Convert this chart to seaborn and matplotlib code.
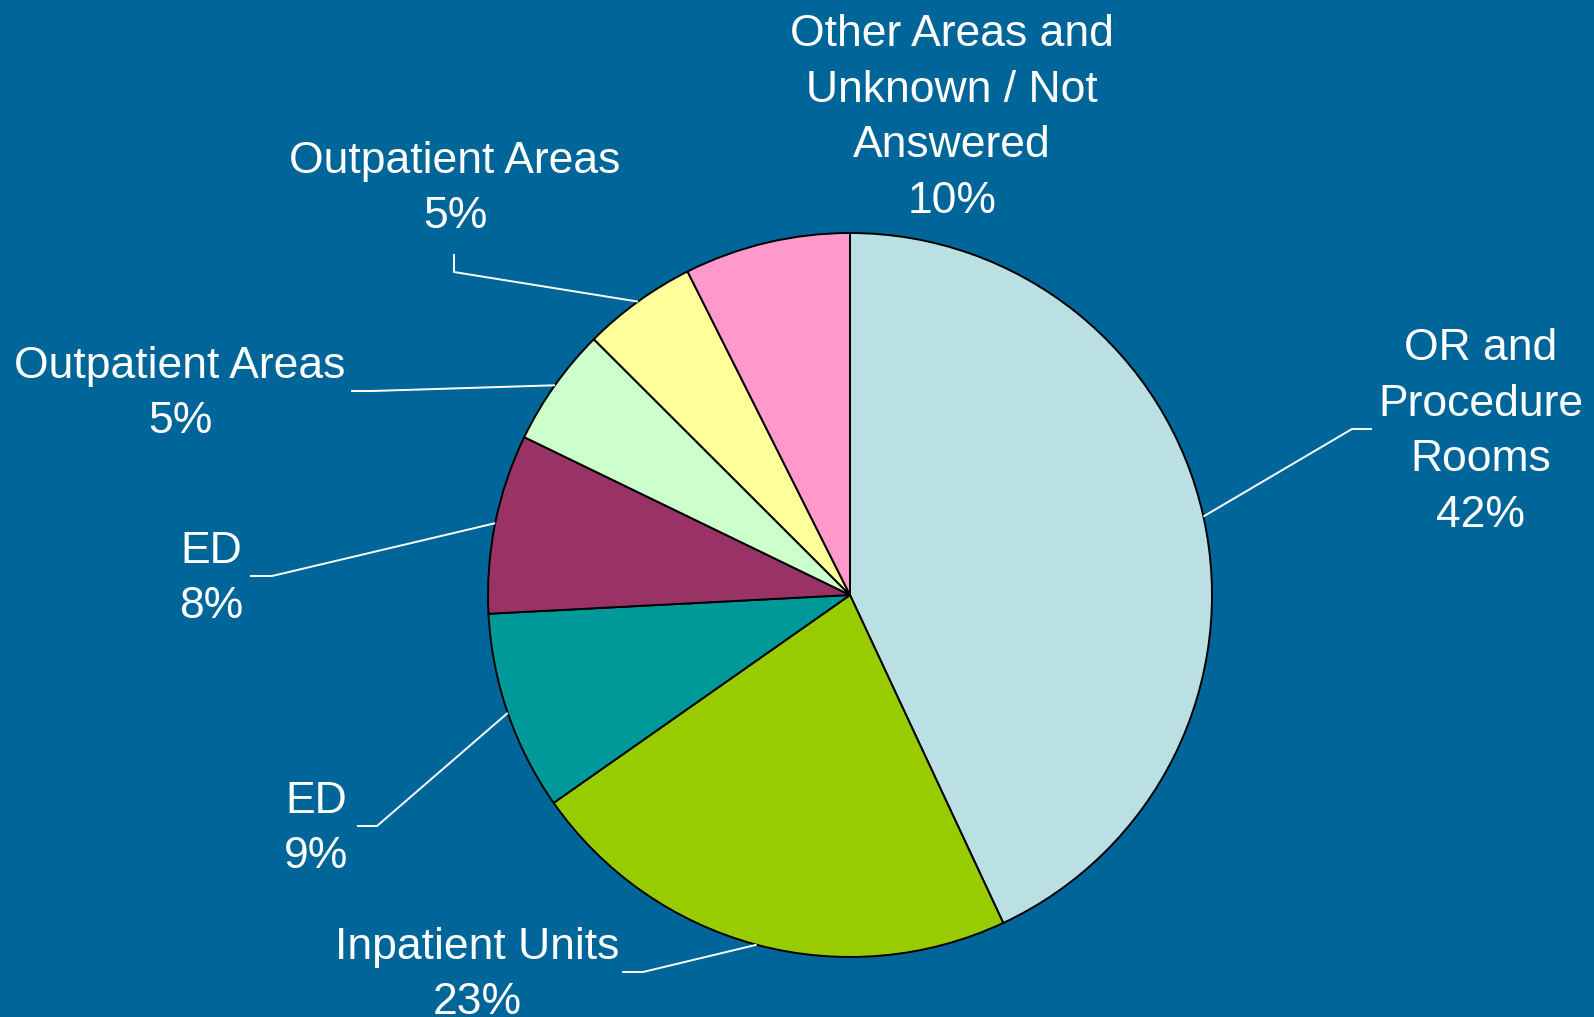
import numpy as np
import matplotlib
matplotlib.use("Agg")
import matplotlib.pyplot as plt
import seaborn as sns

# ---- data ----
categories = ["OR and\nProcedure\nRooms", "Inpatient Units", "ED", "ED",
              "Outpatient Areas", "Outpatient Areas",
              "Other Areas and\nUnknown / Not\nAnswered"]
values = [43.0, 22.2, 8.9, 8.0, 5.3, 5.1, 7.4]
pct_labels = ["42%", "23%", "9%", "8%", "5%", "5%", "10%"]
colors = ["#BBE0E3", "#99CC00", "#009999", "#993366", "#CCFFCC", "#FFFF99", "#FF99CC"]

# ---- layout (pixel space, y up) ----
W, H = 1594, 1017
center = (850, H - 595)
radius = 362
label_pos = [(1481, H - 432), (477, H - 975), (316, H - 829), (211, H - 579),
             (180, H - 394), (455, H - 189), (952, H - 118)]
# leader path after the wedge edge point: list of (x, y) points
leader_paths = [
    [(1352, H - 429), (1372, H - 429)],
    [(643, H - 972), (622, H - 972)],
    [(377, H - 826), (357, H - 826)],
    [(272, H - 576), (250, H - 576)],
    [(372, H - 391), (351, H - 391)],
    [(454, H - 272), (454, H - 254)],
    None,
]

sns.set_style("white")
plt.rcParams['font.family'] = ['Liberation Sans', 'DejaVu Sans']

bg = "#006699"
fig = plt.figure(figsize=(W / 100, H / 100), dpi=100, facecolor=bg)
ax = fig.add_axes([0, 0, 1, 1])
ax.set_facecolor(bg)
ax.set_xlim(0, W)
ax.set_ylim(0, H)
ax.axis("off")

wedges, _ = ax.pie(values, colors=colors, startangle=90, counterclock=False,
                   center=center, radius=radius,
                   wedgeprops=dict(edgecolor="black", linewidth=1.4))
ax.set_xlim(0, W)
ax.set_ylim(0, H)

for w, cat, pct, pos, path in zip(wedges, categories, pct_labels, label_pos, leader_paths):
    ax.text(pos[0], pos[1], cat + "\n" + pct, ha="center", va="center",
            fontsize=32, color="white", linespacing=1.45)
    if path is None:
        continue
    mid = np.deg2rad((w.theta1 + w.theta2) / 2)
    sx = center[0] + radius * np.cos(mid)
    sy = center[1] + radius * np.sin(mid)
    xs = [sx] + [p[0] for p in path]
    ys = [sy] + [p[1] for p in path]
    ax.plot(xs, ys, color="white", linewidth=1.4, solid_capstyle="butt")

fig.savefig("out.png", dpi=100, facecolor=bg)
